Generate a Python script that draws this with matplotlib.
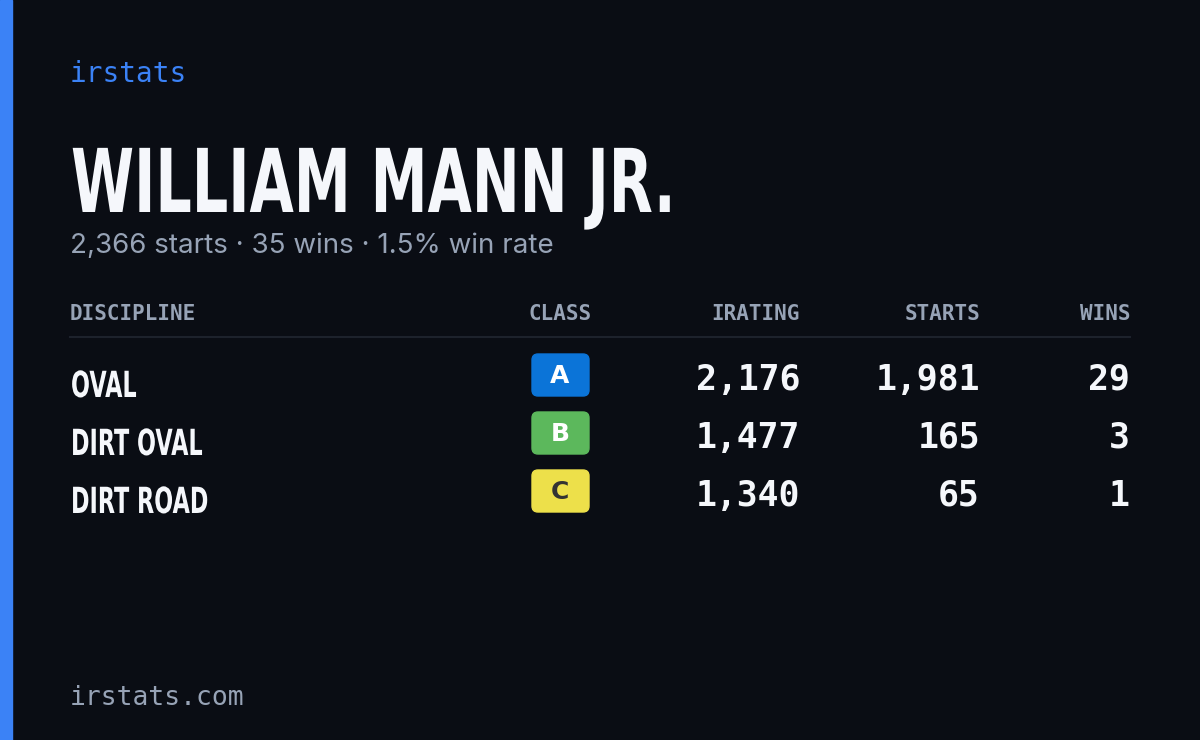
import matplotlib.pyplot as plt
from matplotlib.patches import Rectangle, FancyBboxPatch, PathPatch
from matplotlib.textpath import TextPath
from matplotlib.font_manager import FontProperties
from matplotlib.transforms import Affine2D

driver = "WILLIAM MANN JR."
summary = "2,366 starts · 35 wins · 1.5% win rate"
columns = ["DISCIPLINE", "CLASS", "IRATING", "STARTS", "WINS"]
disciplines = ["OVAL", "DIRT OVAL", "DIRT ROAD"]
classes = ["A", "B", "C"]
class_colors = ["#0b74d8", "#5cb85c", "#ede04a"]
class_text = ["white", "white", "#333333"]
iratings = ["2,176", "1,477", "1,340"]
starts = ["1,981", "165", "65"]
wins = ["29", "3", "1"]

W, H = 1200, 740
fig = plt.figure(figsize=(12, 7.4), dpi=100)
fig.patch.set_facecolor("#0a0d14")
ax = fig.add_axes([0, 0, 1, 1])
ax.set_xlim(0, W)
ax.set_ylim(H, 0)
ax.axis("off")

ax.add_patch(Rectangle((0, 0), 12, H, color="#3b82f6"))

mono = "DejaVu Sans Mono"
grey = "#97a3b6"
white = "#f5f7fb"
boldfp = FontProperties(family="DejaVu Sans", weight="bold")


def narrow_text(x, baseline, s, size, squeeze):
    # condensed look: squeeze a bold text path horizontally
    tp = TextPath((0, 0), s, size=size, prop=boldfp)
    tr = Affine2D().scale(squeeze, -1).translate(x, baseline)
    ax.add_patch(PathPatch(tr.transform_path(tp), color=white, lw=0))


ax.text(70, 74, "irstats", color="#3b82f6", fontsize=20, family=mono, va="center")
narrow_text(71, 212, driver, 88, 0.65)
ax.text(70, 246, summary, color=grey, fontsize=20, family="Inter", va="center")

col_x = [70, 560, 800, 980, 1130]
col_ha = ["left", "center", "right", "right", "right"]
for c, x, ha in zip(columns, col_x, col_ha):
    ax.text(x, 314, c, color=grey, fontsize=15, family=mono, ha=ha,
            va="center", weight="bold")
ax.plot([70, 1130], [337, 337], color="#1d222c", lw=1.5)

for i, d in enumerate(disciplines):
    y = 381 + i * 58
    narrow_text(71, y + 16, d, 36, 0.62)
    ax.add_patch(FancyBboxPatch((532, y - 27), 57, 42,
                                boxstyle="round,pad=0,rounding_size=6",
                                color=class_colors[i]))
    ax.text(560, y - 5, classes[i], color=class_text[i], fontsize=18,
            weight="bold", ha="center", va="center")
    for x, v in zip(col_x[2:], [iratings[i], starts[i], wins[i]]):
        ax.text(x, y - 1, v, color=white, fontsize=25, family=mono,
                ha="right", va="center", weight="bold")

ax.text(70, 698, "irstats.com", color=grey, fontsize=19, family=mono, va="center")

fig.savefig("out.png", facecolor=fig.get_facecolor())
